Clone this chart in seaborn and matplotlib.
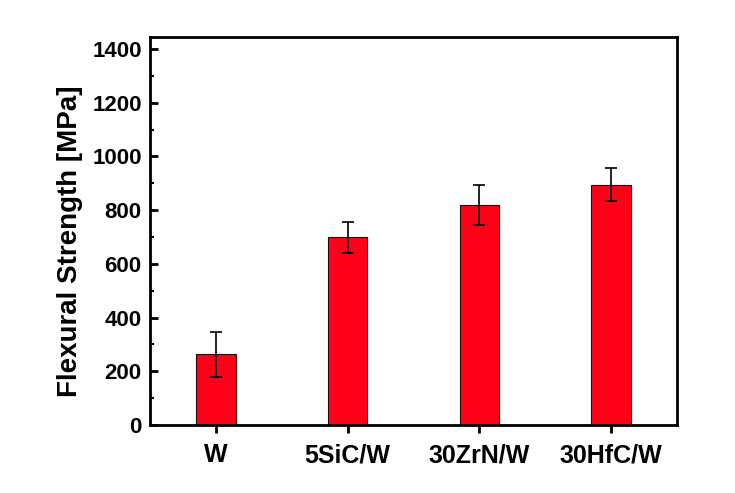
import matplotlib
matplotlib.use("Agg")
import matplotlib.pyplot as plt
import seaborn as sns
import pandas as pd
from matplotlib.ticker import MultipleLocator

categories = ["W", "5SiC/W", "30ZrN/W", "30HfC/W"]
strength = [263, 699, 818, 895]
errors = [85, 57, 74, 62]

sns.set_style("ticks")
plt.rcParams['font.family'] = ['Liberation Sans', 'DejaVu Sans']
plt.rcParams['font.weight'] = 'bold'
plt.rcParams['text.color'] = 'black'
plt.rcParams['axes.labelcolor'] = 'black'
plt.rcParams['xtick.color'] = 'black'
plt.rcParams['ytick.color'] = 'black'

df = pd.DataFrame({"cat": categories, "val": strength, "err": errors})

fig = plt.figure(figsize=(7.35, 4.93), dpi=100)
ax = fig.add_axes([150/735, 1 - 425/493, (677-150)/735, (425-37)/493])

sns.barplot(data=df, x="cat", y="val", order=categories, width=0.3,
            color="#FF0019", saturation=1, edgecolor="#3a0000", linewidth=0.8,
            errorbar=None, ax=ax)
ax.errorbar(df["cat"], df["val"], yerr=df["err"], fmt="none", ecolor="black",
            elinewidth=1.2, capsize=4, capthick=1.2, zorder=5)

ax.set_xlim(-0.5, 3.5)
ax.set_ylim(0, 1445)
ax.yaxis.set_major_locator(MultipleLocator(200))
ax.yaxis.set_minor_locator(MultipleLocator(100))

for s in ax.spines.values():
    s.set_linewidth(2)
    s.set_color("black")
    s.set_visible(True)

ax.tick_params(axis="y", which="major", direction="in", length=6, width=2,
               labelsize=16, pad=6, colors="black")
ax.tick_params(axis="y", which="minor", direction="in", length=3, width=1.5)
ax.tick_params(axis="x", which="major", direction="out", length=6, width=2,
               labelsize=18, pad=7, colors="black")
for lab in ax.get_xticklabels() + ax.get_yticklabels():
    lab.set_fontweight("bold")

ax.set_xlabel("")
ax.set_ylabel("Flexural Strength [MPa]", fontsize=20, fontweight="bold",
              color="black")
ax.yaxis.set_label_coords(-0.128, 0.474)

fig.savefig("out.png", dpi=100)
